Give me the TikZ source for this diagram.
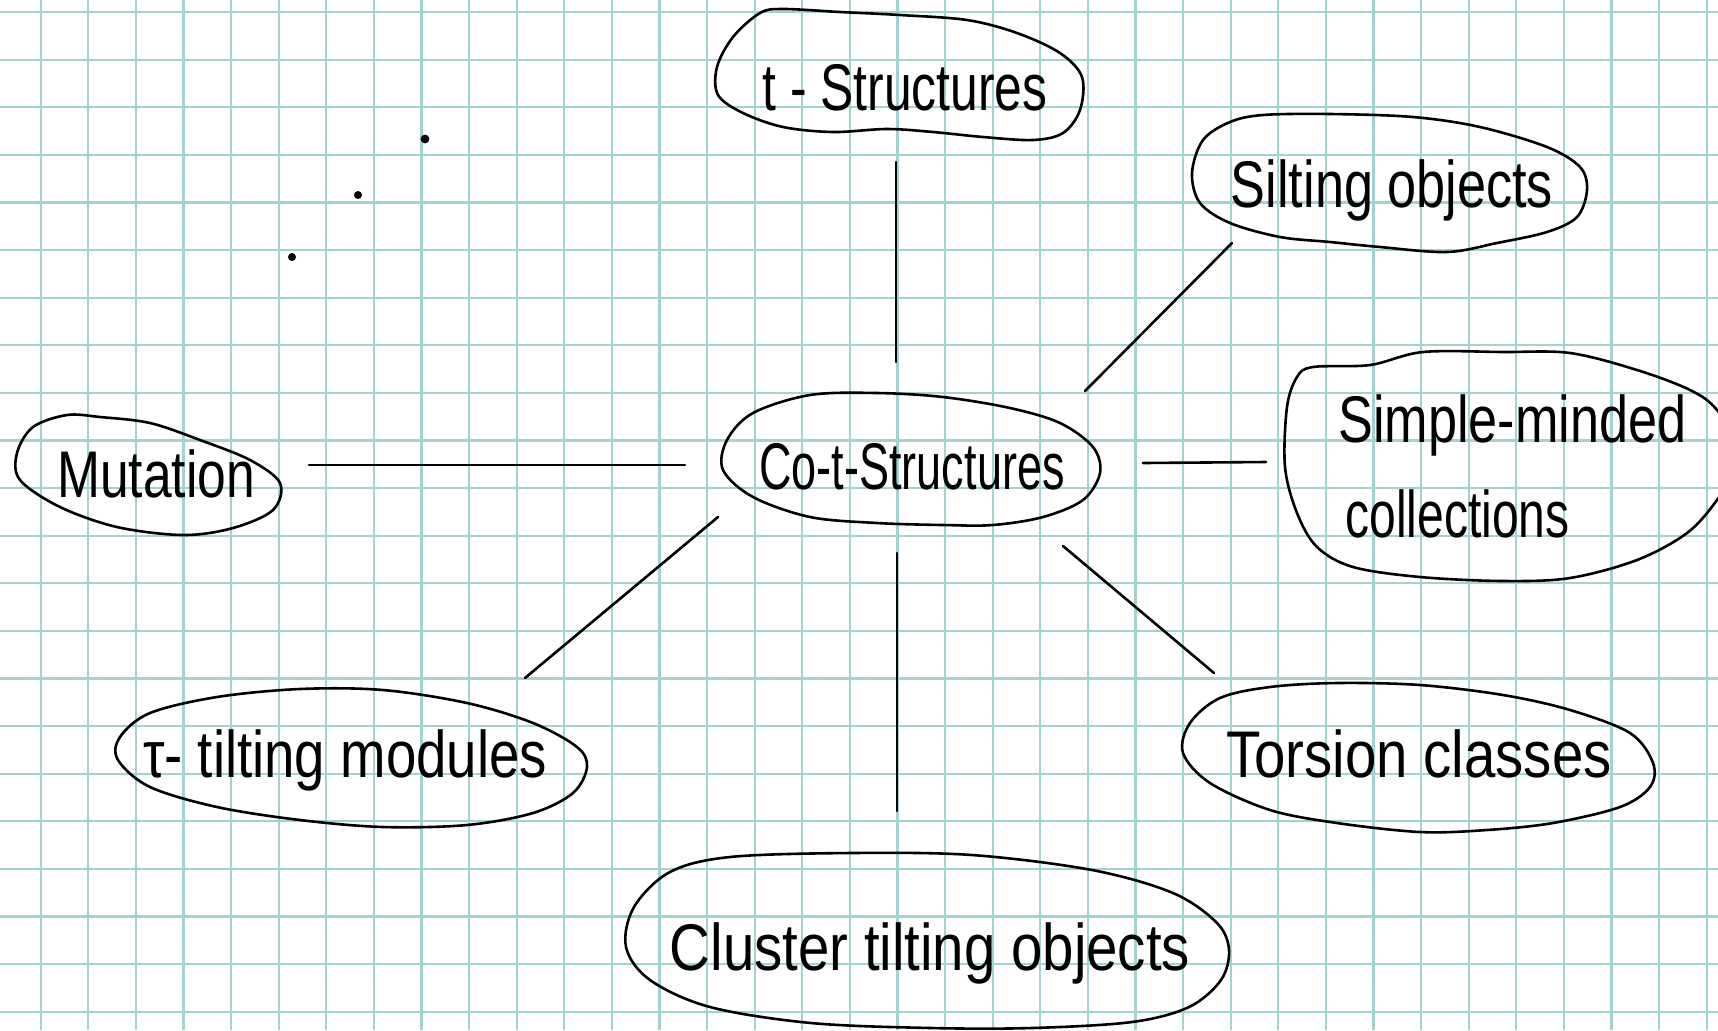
\documentclass[tikz,border=0pt]{standalone}
\usepackage{fontspec}
\setmainfont{Liberation Sans}
\usepackage{graphicx}
\usetikzlibrary{shapes.geometric,calc}
\definecolor{gridc}{RGB}{163,211,208}
\newcommand{\hwtext}[2]{\scalebox{#1}[1.1]{#2}}
\begin{document}
\begin{tikzpicture}[x=0.5pt,y=-0.5pt,
  blob/.style={ellipse,draw=none,inner sep=0pt,outer sep=0pt},
  outline/.style={draw=black,line width=1.3pt,line join=round},
  lbl/.style={inner sep=0pt,font=\fontsize{30pt}{36pt}\selectfont,anchor=base},
  conn/.style={line width=1.3pt,line cap=round},
  gridline/.style={gridc,line width=1.1pt}]
\useasboundingbox (0,0) rectangle (1718,1030);
\fill[white] (0,0) rectangle (1718,1030);
\clip (0,0) rectangle (1718,1030);
\foreach \gi in {0,1,...,35}{
  \pgfmathsetmacro{\gpx}{40.7+47.6*\gi}
  \draw[gridline] (\gpx,0) -- (\gpx,1030);
}
\foreach \gj in {0,1,...,21}{
  \pgfmathsetmacro{\gpy}{12+47.6*\gj}
  \draw[gridline] (0,\gpy) -- (1718,\gpy);
}

% named regions of the blobs
\node[blob,minimum width=182.5pt,minimum height=65.5pt] (tstr) at (900,76) {};
\node[blob,minimum width=197.5pt,minimum height=69.5pt] (silt) at (1390,183) {};
\node[blob,minimum width=220pt,minimum height=115.5pt] (smc) at (1503,466) {};
\node[blob,minimum width=190.5pt,minimum height=67pt] (cot) at (911,460) {};
\node[blob,minimum width=134.5pt,minimum height=61pt] (mut) at (147,474) {};
\node[blob,minimum width=235pt,minimum height=69.5pt] (tau) at (352,758) {};
\node[blob,minimum width=236pt,minimum height=74.5pt] (tors) at (1418,757) {};
\node[blob,minimum width=302pt,minimum height=90pt] (clus) at (927,942) {};

% hand-drawn outlines
\draw[outline] plot[smooth cycle,tension=0.55] coordinates {(760,13) (783,9) (840,12) (900,15) (967,20) (1017,33) (1060,53) (1082,77) (1080,110) (1063,133) (1033,140) (983,137) (933,132) (887,129) (833,132) (783,127) (743,113) (718,95) (717,67) (733,37)};
\draw[outline] plot[smooth cycle,tension=0.55] coordinates {(1230,122) (1263,115) (1330,114) (1413,117) (1480,127) (1547,147) (1580,167) (1587,190) (1577,217) (1547,232) (1497,243) (1447,252) (1380,247) (1330,242) (1280,237) (1230,223) (1200,203) (1192,173) (1203,140)};
\draw[outline] plot[smooth cycle,tension=0.55] coordinates {(1313,367) (1370,365) (1423,352) (1503,352) (1570,353) (1637,370) (1690,390) (1717,410) (1745,455) (1717,500) (1687,533) (1637,560) (1570,578) (1503,581) (1420,577) (1353,567) (1317,547) (1297,513) (1285,467) (1287,407) (1297,377)};
\draw[outline] plot[smooth cycle,tension=0.55] coordinates {(810,395) (877,393) (943,397) (1010,408) (1060,423) (1093,447) (1100,473) (1083,500) (1043,517) (993,525) (943,525) (877,523) (810,517) (753,497) (723,470) (727,440) (753,413)};
\draw[outline] plot[smooth cycle,tension=0.55] coordinates {(67,415) (100,417) (150,423) (200,440) (250,460) (280,483) (273,510) (233,528) (183,535) (117,527) (60,507) (20,480) (17,453) (33,427)};
\draw[outline] plot[smooth cycle,tension=0.55] coordinates {(150,713) (217,697) (300,689) (383,690) (467,703) (533,723) (577,747) (587,767) (573,793) (533,813) (467,825) (383,827) (300,820) (217,807) (150,787) (118,760) (120,737)};
\draw[outline] plot[smooth cycle,tension=0.55] coordinates {(1220,698) (1270,687) (1337,683) (1420,685) (1503,695) (1570,710) (1630,733) (1653,763) (1650,787) (1620,807) (1553,823) (1487,830) (1420,832) (1337,823) (1270,810) (1210,783) (1183,753) (1190,723)};
\draw[outline] plot[smooth cycle,tension=0.55] coordinates {(670,872) (730,857) (851,853) (972,855) (1092,870) (1173,893) (1217,923) (1229,950) (1221,980) (1189,1007) (1132,1022) (1032,1028) (931,1028) (811,1023) (710,1007) (650,980) (626,947) (634,907)};

% labels
\node[lbl] (tstrlbl) at (905,110) {\hwtext{0.83}{t - Structures}};
\node[lbl] (siltlbl) at (1392,207) {\hwtext{0.87}{Silting objects}};
\node[lbl,anchor=base west] (smclblA) at (1338,442) {\hwtext{0.87}{Simple-minded}};
\node[lbl,anchor=base west] (smclblB) at (1345,537) {\hwtext{0.8}{collections}};
\node[lbl] (cotlbl) at (912,489) {\hwtext{0.75}{Co-t-Structures}};
\node[lbl] (mutlbl) at (156,497) {\hwtext{0.86}{Mutation}};
\node[lbl] (taulbl) at (345,777) {\hwtext{0.91}{τ- tilting modules}};
\node[lbl] (torslbl) at (1419,777) {\hwtext{0.94}{Torsion classes}};
\node[lbl] (cluslbl) at (930,970) {\hwtext{0.94}{Cluster tilting objects}};

% connectors
\draw[conn] ($(tstr.center)+(-4,86)$) -- ($(cot.center)+(-15,-98)$);
\draw[conn] ($(cot.center)+(174,-69)$) -- ($(silt.center)+(-158,60)$);
\draw[conn] ($(mut.center)+(162,-9)$) -- ($(cot.center)+(-226,5)$);
\draw[conn] ($(cot.center)+(232,3)$) -- ($(smc.center)+(-237,-4)$);
\draw[conn] ($(cot.center)+(-193,57)$) -- ($(tau.center)+(173,-80)$);
\draw[conn] ($(cot.center)+(-14,93)$) -- ($(clus.center)+(-30,-131)$);
\draw[conn] ($(cot.center)+(152,86)$) -- ($(tors.center)+(-204,-84)$);

% stray pen marks
\fill (425,139) circle[radius=2.2pt];
\fill (358,195) circle[radius=2pt];
\fill (292,257) circle[radius=2pt];
\end{tikzpicture}
\end{document}
